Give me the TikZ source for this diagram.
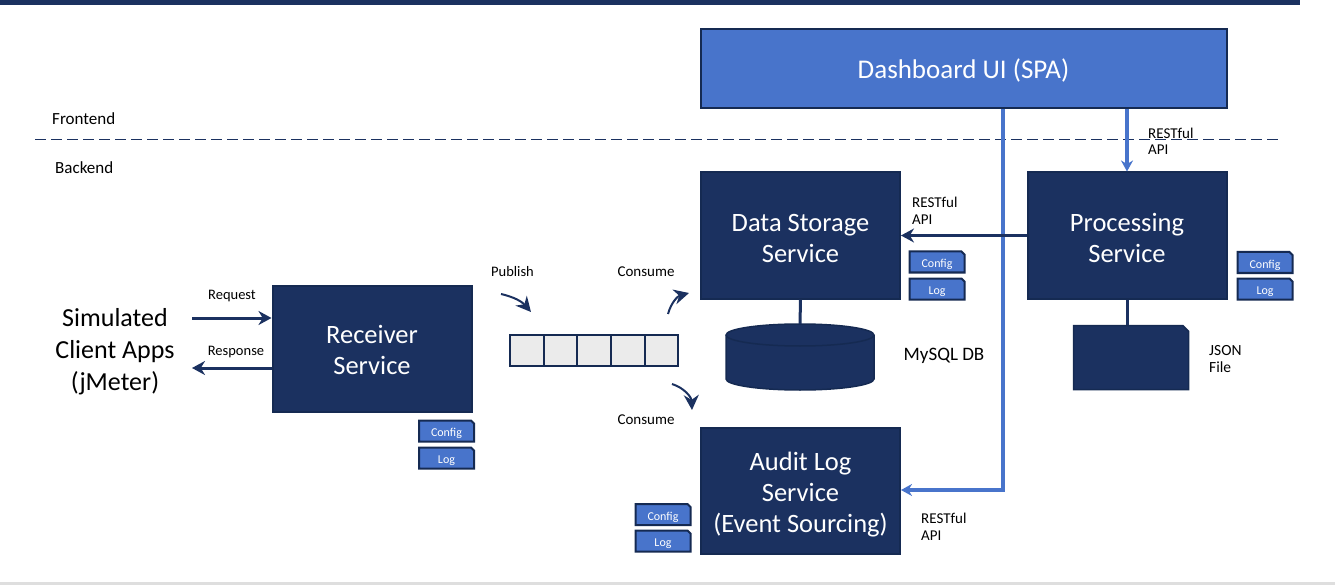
\documentclass[tikz,border=0pt]{standalone}
\usepackage{fontspec}
\setmainfont{Carlito}
\usetikzlibrary{arrows.meta,shapes.misc}

\definecolor{navy}{HTML}{1B3160}
\definecolor{navyline}{HTML}{152A52}
\definecolor{midblue}{HTML}{4874CB}

\begin{document}
\begin{tikzpicture}[x=1pt,y=-1pt,node distance=33.6pt,
    service node/.style={rectangle,draw=navyline,fill=navy,line width=2pt,text=white,align=center,
                         minimum width=199pt,minimum height=126pt,inner sep=0pt,font=\fontsize{26.5}{31}\selectfont},
    ui node/.style={rectangle,draw=navyline,fill=midblue,line width=2pt,text=white,
                    minimum width=526pt,minimum height=79pt,font=\fontsize{27}{31}\selectfont},
    tag node/.style={chamfered rectangle,chamfered rectangle corners=north east,chamfered rectangle xsep=1.5pt,chamfered rectangle ysep=1.5pt,
                     draw=navyline,fill=midblue,line width=2pt,text=white,minimum width=55pt,minimum height=21pt,
                     inner sep=0pt,font=\fontsize{12}{12}\selectfont,execute at begin node=\rule{0pt}{14pt}},
    cell node/.style={rectangle,draw=navyline,fill=black!8,line width=2pt,minimum width=33.6pt,minimum height=31pt,inner sep=0pt},
    label node/.style={align=left,inner sep=0pt,font=\fontsize{14.5}{17.5}\selectfont},
    blue line/.style={draw=midblue,line width=4pt,-{Stealth[length=11pt,width=12pt]}},
    navy line/.style={draw=navy,line width=3pt,-{Stealth[length=13pt,width=14pt]}},
    curve line/.style={draw=navy,line width=2pt,-{Stealth[length=15pt,width=15pt]}}]

  % page edges
  \fill[navy] (0,0) rectangle (1300,5);
  \fill[black!13] (0,582) rectangle (1335,585);
  \useasboundingbox (0,0) rectangle (1335,585);

  % services
  \node[ui node] (dash) at (963.5,68.5) {\rule{0pt}{24pt}Dashboard UI (SPA)};
  \node[service node] (data) at (800.5,235.5) {\rule{0pt}{23.5pt}Data Storage\\Service};
  \node[service node] (procs) at (1127,235.5) {\rule{0pt}{23.5pt}Processing\\Service};
  \node[service node] (recv) at (372,348.5) {\rule{0pt}{21pt}Receiver\\Service};
  \node[service node] (audit) at (800.5,490.5) {\rule{0pt}{26pt}Audit Log\\Service\\(Event Sourcing)};
  \node[align=center,inner sep=0pt,font=\fontsize{26}{32}\selectfont] (client) at (115,352) {Simulated\\Client Apps\\(jMeter)};

  % queue
  \node[cell node] (q1) at (527,350) {};
  \node[cell node] (q2) [right of=q1] {};
  \node[cell node] (q3) [right of=q2] {};
  \node[cell node] (q4) [right of=q3] {};
  \node[cell node] (q5) [right of=q4] {};

  % storage
  \node[minimum width=148pt,minimum height=66pt,inner sep=0pt,outer sep=0pt] (db) at (800,357) {};
  \path[draw=navyline,fill=navy,line width=1.5pt] (726,335) arc[start angle=180,end angle=360,x radius=74,y radius=11]
    -- (874,379) arc[start angle=0,end angle=180,x radius=74,y radius=11] -- cycle;
  \draw[navyline,line width=1.5pt] (726,335) arc[start angle=180,end angle=0,x radius=74,y radius=11];
  \node[chamfered rectangle,chamfered rectangle corners=north east,chamfered rectangle xsep=8pt,chamfered rectangle ysep=8pt,
        draw=navyline,fill=navy,line width=1.5pt,minimum width=115pt,minimum height=64pt,inner sep=0pt] (json) at (1131,357.5) {\phantom{X}};

  % config and log tags
  \node[tag node] (cfgr) at (446.5,431) {Config};
  \node[tag node] (logr) at (446.5,458) {Log};
  \node[tag node] (cfgd) at (937,262) {Config};
  \node[tag node] (logd) at (937,289) {Log};
  \node[tag node] (cfgp) at (1265,262.5) {Config};
  \node[tag node] (logp) at (1265,289) {Log};
  \node[tag node] (cfga) at (663,514.5) {Config};
  \node[tag node] (loga) at (663,541) {Log};

  % free ends
  \coordinate (bend) at (1003,490);
  \coordinate (reqstart) at (192,318);
  \coordinate (respend) at (192,368);
  \coordinate (pubstart) at (501,294);
  \coordinate (pubend) at (531,312);
  \coordinate (constart) at (668,314);
  \coordinate (conend) at (689,293);
  \coordinate (autstart) at (672,384);
  \coordinate (autend) at (692,410);

  % frontend / backend
  \draw[navy,line width=1pt,dash pattern=on 11pt off 5pt] (35,140) -- (1279,140);
  \node[label node,font=\fontsize{17}{17}\selectfont,anchor=west] (front) at (52,119) {Frontend};
  \node[label node,font=\fontsize{17}{17}\selectfont,anchor=west] (back) at (55,168) {Backend};

  \path[every edge/.style={draw=navy,line width=3pt}]
    (data.south) edge (db.north)
    (procs.south) edge (json.north -| procs.south);

  \draw[blue line] (dash.south -| procs.north) -- (procs.north);
  \draw[blue line] (dash.south -| bend) -- (bend) -- (audit.east |- bend);
  \draw[navy line] (procs) -- (data);
  \draw[navy line] (reqstart) -- (recv.west |- reqstart);
  \draw[navy line] (recv.west |- respend) -- (respend);
  \draw[curve line] (pubstart) to[bend left=18] (pubend);
  \draw[curve line] (constart) to[bend left=30] (conend);
  \draw[curve line] (autstart) to[bend left=35] (autend);

  % labels
  \node[label node,font=\fontsize{15}{16.5}\selectfont,anchor=west] (apip) at (1148,141.5) {RESTful\\API};
  \node[label node,font=\fontsize{15}{17.5}\selectfont,anchor=west] (apid) at (912,211) {RESTful\\API};
  \node[label node,font=\fontsize{15}{17.5}\selectfont,anchor=west] (apia) at (921,527) {RESTful\\API};
  \node[label node] (req) at (232,296) {Request};
  \node[label node] (resp) at (236,352.5) {Response};
  \node[label node] (pub) at (512.5,272) {Publish};
  \node[label node,font=\fontsize{15}{15}\selectfont] (con1) at (646,272) {Consume};
  \node[label node,font=\fontsize{15}{15}\selectfont] (con2) at (646,420) {Consume};
  \node[label node,font=\fontsize{19}{19}\selectfont] (mysql) at (944,355.5) {MySQL DB};
  \node[label node,font=\fontsize{15.5}{17.5}\selectfont,anchor=west] (jsonl) at (1209,359) {JSON\\File};
\end{tikzpicture}
\end{document}
